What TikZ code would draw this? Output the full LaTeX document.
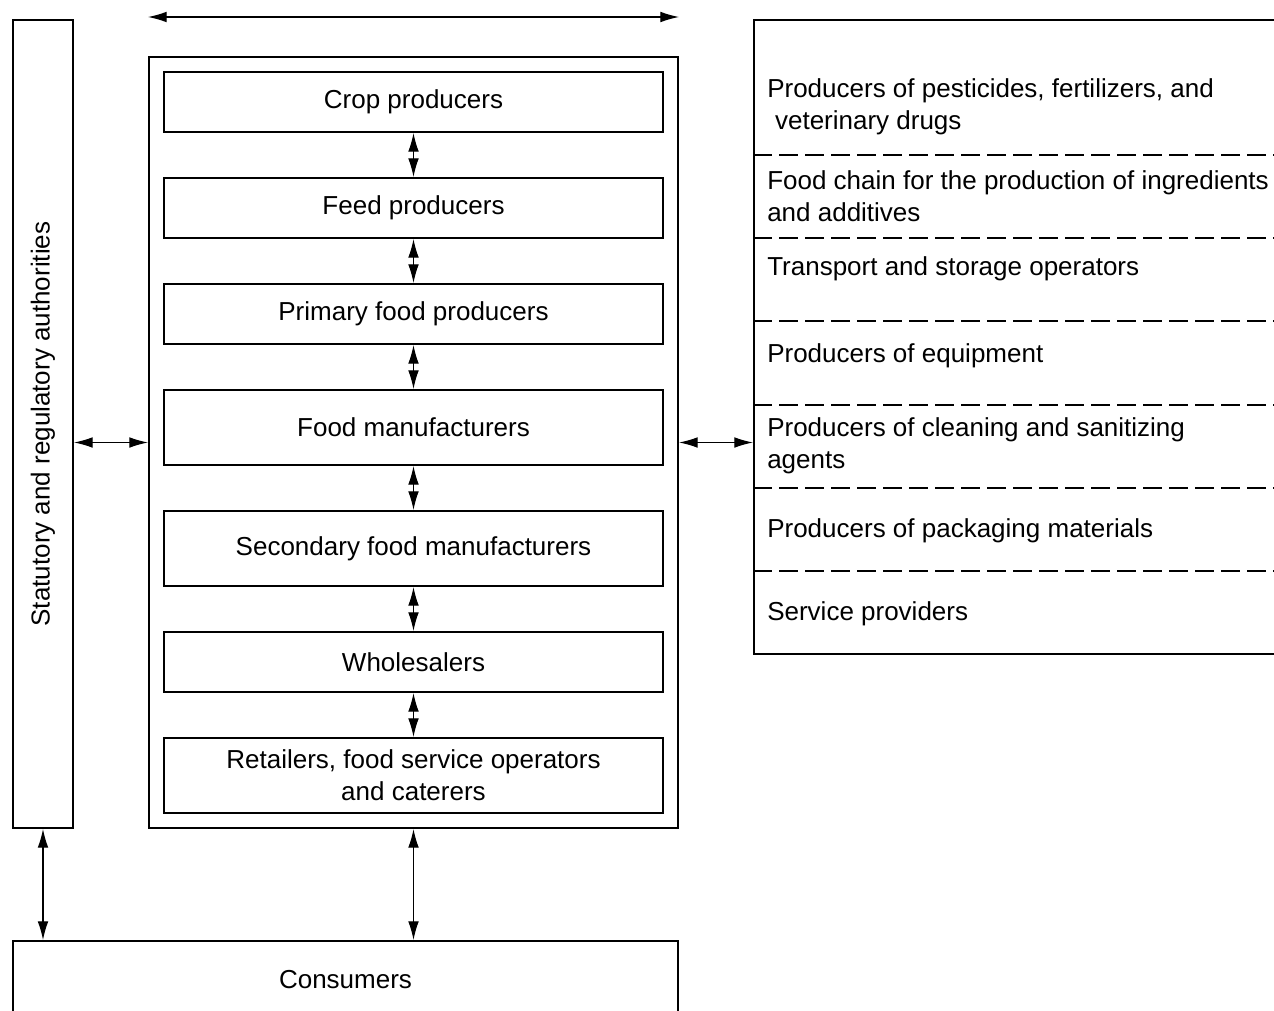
\documentclass[tikz,border=0pt]{standalone}
\usepackage{fontspec}
\setmainfont{Liberation Sans}
\usetikzlibrary{arrows.meta}

\tikzset{
  box/.style={draw, line width=1.5pt, inner sep=0pt, align=center,
    font=\fontsize{19.5}{24}\selectfont},
  stage/.style={box, minimum width=374.25pt, minimum height=45pt},
  tallstage/.style={stage, minimum height=56.25pt},
  item/.style={anchor=west, align=left, inner sep=0pt,
    font=\fontsize{19.5}{24}\selectfont},
  link/.style={line width=0.9pt, {Latex[length=14pt,width=8pt]}-{Latex[length=14pt,width=8pt]}},
  sep/.style={line width=1.5pt, dash pattern=on 14.25pt off 5.25pt}
}

\begin{document}
\begin{tikzpicture}[x=0.75pt,y=0.75pt,yscale=-1,xscale=1]
\clip (0,0) rectangle (1274,1010);

% outer boxes
\node[box, minimum width=396.75pt, minimum height=578.25pt] (chain) at (413.5,442.5) {};
\node[box, minimum width=45pt, minimum height=606pt] (auth) at (43,424)
  {\rotatebox{90}{Statutory and regulatory authorities}};
\node[box, minimum width=402pt, minimum height=475.5pt] (suppliers) at (1022,337) {};
\node[box, minimum width=498.75pt, minimum height=58.5pt] (consumers) at (345.5,980) {Consumers};

% food chain stages
\node[stage] (crop) at (413.5,102) {Crop producers};
\node[stage] (feed) at (413.5,208) {Feed producers};
\node[stage] (primary) at (413.5,314) {Primary food producers};
\node[tallstage] (manuf) at (413.5,427.5) {Food manufacturers};
\node[tallstage] (secondary) at (413.5,548.5) {Secondary food manufacturers};
\node[stage] (whole) at (413.5,662) {Wholesalers};
\node[tallstage] (retail) at (413.5,775.5) {Retailers, food service operators\\and caterers};

\foreach \a/\b in {crop/feed, feed/primary, primary/manuf, manuf/secondary,
                   secondary/whole, whole/retail}
  \draw[link] (\a) -- (\b);

% related organisations
\foreach \y in {155,238,321,405,488,571}
  \draw[sep] (suppliers.west |- 0,\y) -- (suppliers.east |- 0,\y);

\node[item] (pest) at (767,106.5) {Producers of pesticides, fertilizers, and\\\hspace*{0.3em}veterinary drugs};
\node[item] (ingred) at (767,196) {Food chain for the production of ingredients\\and additives};
\node[item] (transport) at (767,268.5) {Transport and storage operators};
\node[item] (equip) at (767,355.5) {Producers of equipment};
\node[item] (clean) at (767,446) {Producers of cleaning and sanitizing\\agents};
\node[item] (pack) at (767,530.5) {Producers of packaging materials};
\node[item] (service) at (767,613.5) {Service providers};

% connectors
\draw[link] ([yshift=-29.25pt]chain.north west) -- ([yshift=-29.25pt]chain.north east);
\draw[link] (auth.east |- chain) -- (chain.west);
\draw[link] (chain.east) -- (suppliers.west |- chain);
\draw[link] (auth.south) -- (auth.south |- consumers.north);
\draw[link] (chain.south) -- (chain.south |- consumers.north);

\end{tikzpicture}
\end{document}
